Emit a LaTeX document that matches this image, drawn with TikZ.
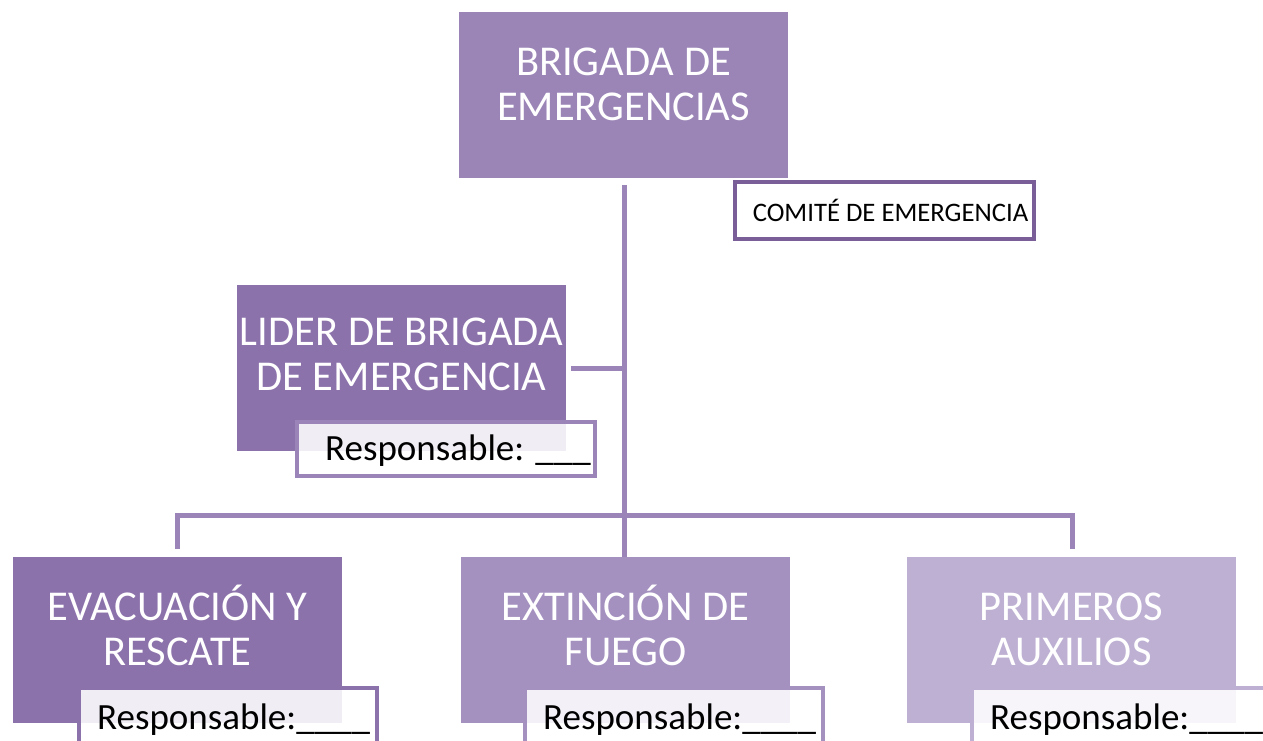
\documentclass[tikz,border=0pt]{standalone}
\usepackage{fontspec}
\setmainfont{Carlito}
\definecolor{cTop}{HTML}{9B85B7}
\definecolor{cDark}{HTML}{8C72AB}
\definecolor{cMid}{HTML}{A491C0}
\definecolor{cLight}{HTML}{BEB0D3}
\definecolor{cConn}{HTML}{9A84B8}
\definecolor{cCom}{HTML}{7A5E98}
\begin{document}
\begin{tikzpicture}[x=1pt,y=-1pt,
  box/.style={rectangle, inner sep=0pt, outer sep=0pt, anchor=north west, minimum width=329pt, minimum height=166pt},
  big/.style={text=white, align=center, font=\fontsize{42.5}{45}\selectfont, inner sep=0pt},
  resp/.style={rectangle, line width=4pt, fill=white, fill opacity=0.88, text opacity=1, anchor=north west, minimum width=298pt, minimum height=64pt, inner sep=0pt, outer sep=0pt},
  resptext/.style={anchor=base west, font=\fontsize{37}{40}\selectfont, text=black, inner sep=0pt},
  conn/.style={draw=cConn, line width=5pt, line join=miter}]
\useasboundingbox (0,0) rectangle (1263,740);
\clip (0,0) rectangle (1263,740);
% top
\node[box, fill=cTop] (top) at (459,12) {};
\node[big] (toptext) at ([yshift=15pt]top.center) {\vphantom{Ó}BRIGADA DE\\EMERGENCIAS};
% comite
\node[rectangle, draw=cCom, line width=4pt, fill=white, anchor=north west, minimum width=299pt, minimum height=57pt, inner sep=0pt] (com) at (733,180) {};
\node[font=\fontsize{26.7}{30}\selectfont, text=black, inner sep=0pt] (comtext) at ([xshift=6pt]com.center) {COMITÉ DE EMERGENCIA};
% connectors
\coordinate (trunkTop) at (624,185);
\coordinate (busL) at (177,515);
\coordinate (busR) at (1072,515);
\coordinate (liderJ) at (624,368);
% lider
\node[box, fill=cDark] (lider) at (237,285) {};
\draw[conn] (lider.east |- liderJ) ++(5,0) -- (liderJ);
\node[big] (lidertext) at ([yshift=18pt]lider.center) {\vphantom{Ó}LIDER DE BRIGADA\\DE EMERGENCIA};
\node[resp, draw=cConn, minimum height=54pt] (lresp) at (297,422) {};
\node[resptext] (lresptext) at (325,460) {Responsable: \_\_\_};
% bottom boxes
\node[box, fill=cDark] (evac) at (13,557) {};
\node[box, fill=cMid] (ext) at (461,557) {};
\node[box, fill=cLight] (prim) at (907,557) {};
\draw[conn] (trunkTop) -- (trunkTop |- ext.north);
\draw[conn] ([yshift=8pt]evac.north -| busL) -- (busL) -- (busR) -- ([yshift=8pt]prim.north -| busR);
\node[big] (evactext) at ([yshift=15pt]evac.center) {\vphantom{Ó}EVACUACIÓN Y\\RESCATE};
\node[big] (exttext) at ([yshift=15pt]ext.center) {\vphantom{Ó}EXTINCIÓN DE\\FUEGO};
\node[big] (primtext) at ([yshift=15pt]prim.center) {\vphantom{Ó}PRIMEROS\\AUXILIOS};
\node[resp, draw=cDark] (eresp) at (79,688) {};
\node[resp, draw=cMid] (xresp) at (525,688) {};
\node[resp, draw=cLight] (presp) at (972,688) {};
\node[resptext] (eresptext) at (97,729) {Responsable:\_\_\_\_};
\node[resptext] (xresptext) at (543,729) {Responsable:\_\_\_\_};
\node[resptext] (presptext) at (990,729) {Responsable:\_\_\_\_};
\end{tikzpicture}
\end{document}
